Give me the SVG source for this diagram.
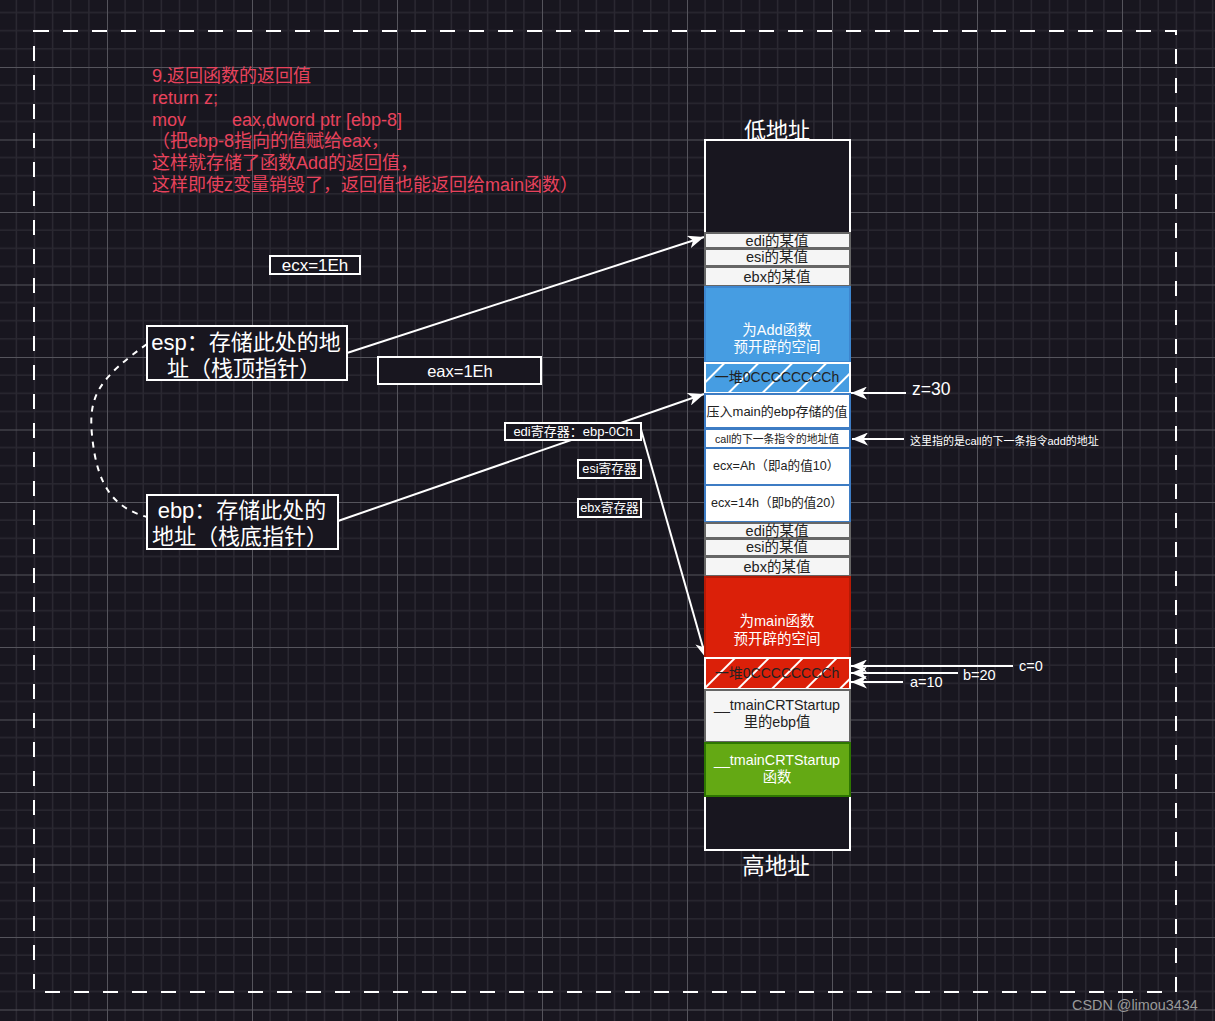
<svg xmlns="http://www.w3.org/2000/svg" width="1215" height="1021" viewBox="0 0 1215 1021">
<style>
text{font-family:"Liberation Sans","Noto Sans CJK SC",sans-serif;}
.w{fill:#ffffff;}
.d{fill:#222222;}
.c{text-anchor:middle;dominant-baseline:central;}
.l{dominant-baseline:central;}
.red{fill:#e8425c;font-size:18px;}
.gb{fill:#f5f5f5;stroke:#666666;stroke-width:2;}
.wb{fill:#ffffff;stroke:#3d7cc4;stroke-width:2;}
.lab{fill:#18161f;stroke:#ffffff;stroke-width:2;}
.conn{stroke:#ffffff;stroke-width:2;fill:none;}
</style>
<defs>
<pattern id="grid" width="145" height="72.5" patternUnits="userSpaceOnUse" x="107" y="67">
<path d="M18.125,0V72.5M36.25,0V72.5M54.375,0V72.5M72.5,0V72.5M90.625,0V72.5M108.75,0V72.5M126.875,0V72.5M0,18.125H145M0,36.25H145M0,54.375H145" stroke="#2a2831" stroke-width="1.5" fill="none"/>
<path d="M0.5,0V72.5M0,0.5H145" stroke="#55545c" stroke-width="1" fill="none"/>
</pattern>
<pattern id="hatchB" width="24" height="24" patternUnits="userSpaceOnUse" patternTransform="rotate(45)">
<rect width="24" height="24" fill="#469de2"/>
<rect x="0" y="0" width="2" height="24" fill="#ffffff"/>
</pattern>
<pattern id="hatchR" width="24" height="24" patternUnits="userSpaceOnUse" patternTransform="rotate(45)">
<rect width="24" height="24" fill="#db2009"/>
<rect x="0" y="0" width="2" height="24" fill="#ffffff"/>
</pattern>
<marker id="arr" markerWidth="17" markerHeight="13" refX="16" refY="6.5" orient="auto" markerUnits="userSpaceOnUse">
<path d="M0,0 L16,6.5 L0,13 L4.5,6.5 z" fill="#ffffff"/>
</marker>
</defs>

<rect width="1215" height="1021" fill="#18161f"/>
<rect width="1215" height="1021" fill="url(#grid)"/>

<rect x="34" y="31" width="1142" height="961" fill="none" stroke="#ffffff" stroke-width="2" stroke-dasharray="15 14"/>

<g id="note">
<text class="red" x="152" y="82">9.返回函数的返回值</text>
<text class="red" x="152" y="104">return z;</text>
<text class="red" x="152" y="126">mov<tspan x="232">eax,dword ptr [ebp-8]</tspan></text>
<text class="red" x="152" y="147">（把ebp-8指向的值赋给eax，</text>
<text class="red" x="152" y="169">这样就存储了函数Add的返回值，</text>
<text class="red" x="152" y="191">这样即使z变量销毁了，返回值也能返回给main函数）</text>
</g>

<g id="connectors">
<path class="conn" d="M147,344 C100,378 88,395 92,435 C97,488 115,508 147,517" stroke-dasharray="6 6"/>
<line class="conn" x1="347" y1="353" x2="704" y2="237" marker-end="url(#arr)"/>
<line class="conn" x1="338" y1="521" x2="704" y2="394" marker-end="url(#arr)"/>
<line class="conn" x1="640" y1="426" x2="706" y2="658" marker-end="url(#arr)"/>
<line class="conn" x1="906" y1="393" x2="851" y2="393" marker-end="url(#arr)"/>
<line class="conn" x1="904" y1="439" x2="852" y2="439" marker-end="url(#arr)"/>
<line class="conn" x1="1013" y1="666" x2="851" y2="666" marker-end="url(#arr)"/>
<line class="conn" x1="958" y1="673" x2="851" y2="673" marker-end="url(#arr)"/>
<line class="conn" x1="903" y1="682" x2="851" y2="682" marker-end="url(#arr)"/>
</g>

<g id="ecx-label"><rect class="lab" x="270" y="256" width="90" height="18"/><text class="w c" x="315" y="265" font-size="17">ecx=1Eh</text></g>
<g id="esp"><rect class="lab" x="147" y="326" width="200" height="54"/>
<text class="w c" x="246" y="342" font-size="22">esp：存储此处的地</text>
<text class="w c" x="244" y="368" font-size="22">址（栈顶指针）</text></g>
<g id="eax-label"><rect class="lab" x="378" y="357" width="163" height="27"/><text class="w c" x="460" y="371" font-size="16.5">eax=1Eh</text></g>
<g id="ebp"><rect class="lab" x="147" y="495" width="191" height="54"/>
<text class="w c" x="242" y="510" font-size="22">ebp：存储此处的</text>
<text class="w c" x="240" y="536" font-size="22">地址（栈底指针）</text></g>
<g id="edi-reg"><rect class="lab" x="505" y="423" width="136" height="17"/><text class="w c" x="573" y="431.5" font-size="13">edi寄存器：ebp-0Ch</text></g>
<g id="esi-reg"><rect class="lab" x="578" y="460" width="63" height="18"/><text class="w c" x="609.5" y="469" font-size="12.7">esi寄存器</text></g>
<g id="ebx-reg"><rect class="lab" x="578" y="499" width="63" height="18"/><text class="w c" x="609.5" y="508" font-size="12.7">ebx寄存器</text></g>

<g id="stack">
<rect x="705" y="140" width="145" height="710" fill="#18161f" stroke="#ffffff" stroke-width="2"/>
<text class="w c" x="777" y="130" font-size="22">低地址</text>
<text class="w c" x="776" y="866" font-size="22.5">高地址</text>
</g>
<g id="edi1"><rect class="gb" x="705" y="233" width="145" height="15"/><text class="d c" x="777" y="241" font-size="14.5">edi的某值</text></g>
<g id="esi1"><rect class="gb" x="705" y="249" width="145" height="17"/><text class="d c" x="777" y="257" font-size="14.5">esi的某值</text></g>
<g id="ebx1"><rect class="gb" x="705" y="267" width="145" height="19"/><text class="d c" x="777" y="277" font-size="14.5">ebx的某值</text></g>
<g id="add-space"><rect x="705" y="287" width="145" height="75" fill="#469de2" stroke="#3d86cf" stroke-width="2"/>
<text class="w c" x="777" y="330" font-size="14.5">为Add函数</text>
<text class="w c" x="777" y="347" font-size="14.5">预开辟的空间</text></g>
<g id="add-cc"><rect x="705" y="363" width="145" height="30" fill="url(#hatchB)" stroke="#ffffff" stroke-width="2"/>
<text class="d c" x="777" y="377" font-size="14">一堆0CCCCCCCCh</text></g>
<g id="main-ebp"><rect class="wb" x="705" y="394" width="145" height="34"/><text class="d c" x="777" y="411" font-size="13">压入main的ebp存储的值</text></g>
<g id="ret-addr"><rect class="wb" x="705" y="429" width="145" height="19"/><text class="d c" x="777" y="439" font-size="10.8">call的下一条指令的地址值</text></g>
<g id="ecx-a"><rect class="wb" x="705" y="448" width="145" height="37"/><text class="d l" x="713" y="466" font-size="12.6">ecx=Ah（即a的值10）</text></g>
<g id="ecx-b"><rect class="wb" x="705" y="485" width="145" height="37"/><text class="d l" x="711" y="503" font-size="12.6">ecx=14h（即b的值20）</text></g>
<g id="edi2"><rect class="gb" x="705" y="523" width="145" height="15"/><text class="d c" x="777" y="531" font-size="14.5">edi的某值</text></g>
<g id="esi2"><rect class="gb" x="705" y="539" width="145" height="17"/><text class="d c" x="777" y="547" font-size="14.5">esi的某值</text></g>
<g id="ebx2"><rect class="gb" x="705" y="557" width="145" height="19"/><text class="d c" x="777" y="567" font-size="14.5">ebx的某值</text></g>
<g id="main-space"><rect x="705" y="577" width="145" height="81" fill="#db2009" stroke="#b51a05" stroke-width="2"/>
<text class="w c" x="777" y="621" font-size="14.5">为main函数</text>
<text class="w c" x="777" y="639" font-size="14.5">预开辟的空间</text></g>
<g id="main-cc"><rect x="705" y="658" width="145" height="31" fill="url(#hatchR)" stroke="#ffffff" stroke-width="2"/>
<text class="d c" x="777" y="673" font-size="14">一堆0CCCCCCCCh</text></g>
<g id="crt-ebp"><rect class="gb" x="705" y="690" width="145" height="52"/>
<text class="d c" x="777" y="705" font-size="14.3">__tmainCRTStartup</text>
<text class="d c" x="777" y="722" font-size="14.3">里的ebp值</text></g>
<g id="crt-func"><rect x="705" y="743" width="145" height="53" fill="#64a914" stroke="#2d7600" stroke-width="2"/>
<text class="w c" x="777" y="760" font-size="14.3">__tmainCRTStartup</text>
<text class="w c" x="777" y="777" font-size="14.3">函数</text></g>

<g id="labels">
<text class="w l" x="912" y="389" font-size="17.5">z=30</text>
<text class="w l" x="910" y="441" font-size="11">这里指的是call的下一条指令add的地址</text>
<text class="w l" x="1019" y="666" font-size="14.5">c=0</text>
<text class="w l" x="963" y="675" font-size="14.5">b=20</text>
<text class="w l" x="910" y="682" font-size="14.5">a=10</text>
</g>
<text x="1072" y="1010" font-size="14.4" fill="#9a9a9a">CSDN @limou3434</text>
</svg>
